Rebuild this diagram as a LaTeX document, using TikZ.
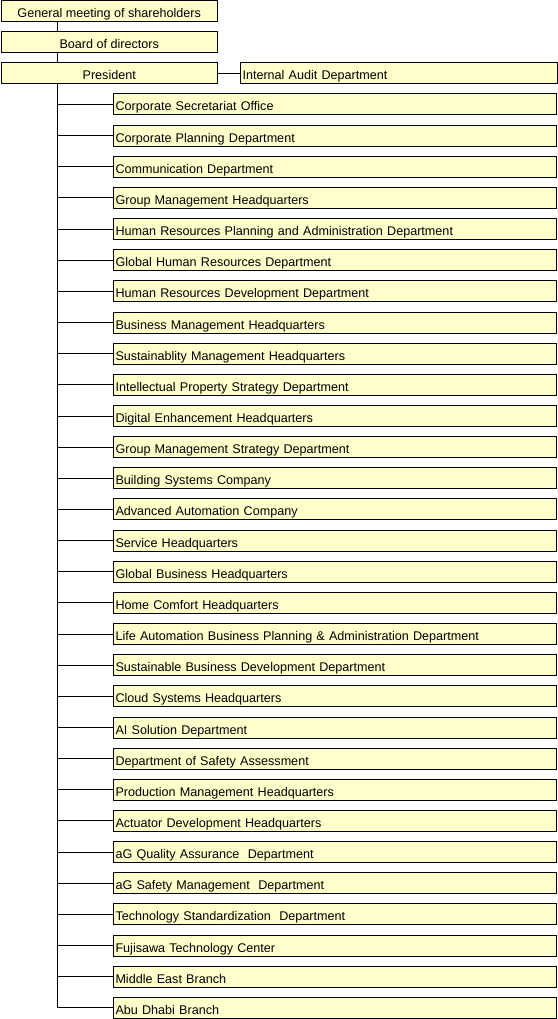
\documentclass[tikz,border=0pt]{standalone}
\usepackage{fontspec}
\setmainfont{Liberation Sans}
\definecolor{boxfill}{HTML}{FFFFCC}
\begin{document}
\begin{tikzpicture}[x=1pt,y=-1pt,
  box/.style={draw=black, line width=1pt, fill=boxfill, minimum height=21pt, inner ysep=0pt, text height=13pt, text depth=0pt, font=\fontsize{12.6}{14}\selectfont, anchor=north west},
  topbox/.style={box, minimum width=216.5pt, inner xsep=0pt},
  childbox/.style={box, text width=438pt, inner xsep=2.5pt, align=left},
  link/.style={draw=black, line width=1pt}]
\useasboundingbox (0,0) rectangle (557,1019);
\node[topbox] (gm) at (0.5,0.5) {General meeting of shareholders};
\node[topbox] (bd) at (0.5,31.5) {Board of directors};
\node[topbox] (pr) at (0.5,62.5) {President};
\node[box, text width=312pt, inner xsep=2.5pt, align=left] (ia) at (239.5,62.5) {Internal Audit Department};
\coordinate (sp) at (57,0);
\foreach \t [count=\i] in {
Corporate Secretariat Office,
Corporate Planning Department,
Communication Department,
Group Management Headquarters,
Human Resources Planning and Administration Department,
Global Human Resources Department,
Human Resources Development Department,
Business Management Headquarters,
Sustainablity Management Headquarters,
Intellectual Property Strategy Department,
Digital Enhancement Headquarters,
Group Management Strategy Department,
Building Systems Company,
Advanced Automation Company,
Service Headquarters,
Global Business Headquarters,
Home Comfort Headquarters,
Life Automation Business Planning \& Administration Department,
Sustainable Business Development Department,
Cloud Systems Headquarters,
AI Solution Department,
Department of Safety Assessment,
Production Management Headquarters,
Actuator Development Headquarters,
aG Quality Assurance~ Department,
aG Safety Management~ Department,
Technology Standardization~ Department,
Fujisawa Technology Center,
Middle East Branch,
Abu Dhabi Branch}
{
  \node[childbox] (c\i) at (112.5,{93.5+31.15*(\i-1)}) {\t};
  \draw[link] (sp |- c\i.west) -- (c\i.west);
}
\draw[link] (sp |- gm.south) -- (sp |- bd.north);
\draw[link] (sp |- bd.south) -- (sp |- pr.north);
\draw[link] (sp |- pr.south) -- (sp |- c30.west);
\draw[link] (pr.east) -- (ia.west);
\end{tikzpicture}
\end{document}
